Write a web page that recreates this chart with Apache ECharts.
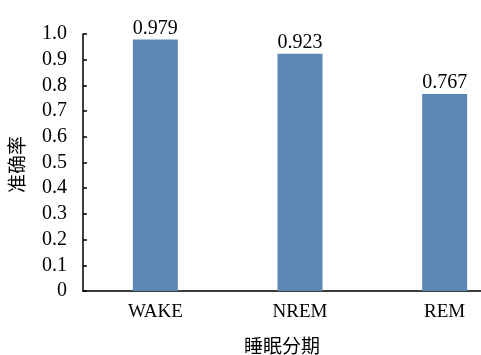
<!DOCTYPE html>
<html>
<head>
<meta charset="utf-8">
<script src="https://cdn.jsdelivr.net/npm/echarts@6/dist/echarts.min.js"></script>
<style>
  html, body { margin: 0; padding: 0; background: #fff; overflow: hidden; }
  #chart { width: 520px; height: 355px; }
</style>
</head>
<body>
<div id="chart"></div>
<script>
// Sleep-stage classification accuracy
const stages = ['WAKE', 'NREM', 'REM'];
const accuracy = [0.979, 0.923, 0.767];
const yTicks = [0, 0.1, 0.2, 0.3, 0.4, 0.5, 0.6, 0.7, 0.8, 0.9, 1.0];

const serif = '"Liberation Serif", "Times New Roman", serif';
const cjk = '"Noto Sans CJK SC", sans-serif';

const chart = echarts.init(document.getElementById('chart'));
chart.setOption({
  animation: false,
  backgroundColor: '#fff',
  grid: { left: 83, right: 3, top: 34, bottom: 64, containLabel: false },
  xAxis: {
    type: 'category',
    data: stages,
    axisLine: { lineStyle: { color: '#000', width: 1.5 } },
    axisTick: { show: false },
    axisLabel: { color: '#000', fontFamily: serif, fontSize: 19, margin: 12 }
  },
  yAxis: {
    type: 'value',
    min: 0,
    max: 1,
    interval: 0.1,
    splitLine: { show: false },
    axisLine: { show: true, lineStyle: { color: '#000', width: 1.5 } },
    axisTick: { show: true, inside: true, length: 4, lineStyle: { color: '#000', width: 1.5 } },
    axisLabel: {
      color: '#000', fontFamily: serif, fontSize: 20, margin: 16,
      formatter: v => {
        const t = yTicks.find(x => Math.abs(x - v) < 1e-6);
        return t === 0 ? '0' : (t !== undefined ? t.toFixed(1) : '');
      }
    }
  },
  series: [{
    type: 'bar',
    data: accuracy,
    barWidth: 45,
    itemStyle: { color: '#5b88b3' },
    label: {
      show: true,
      position: 'top',
      distance: 1,
      color: '#000',
      fontFamily: serif,
      fontSize: 20,
      formatter: p => p.value.toFixed(3)
    }
  }],
  graphic: [
    {
      type: 'text',
      left: 244, top: 336,
      style: { text: '睡眠分期', fill: '#000', font: '19px ' + cjk }
    },
    {
      type: 'text',
      x: 7, y: 193,
      rotation: Math.PI / 2,
      style: { text: '准确率', fill: '#000', font: '19px ' + cjk }
    }
  ]
});
</script>
</body>
</html>
